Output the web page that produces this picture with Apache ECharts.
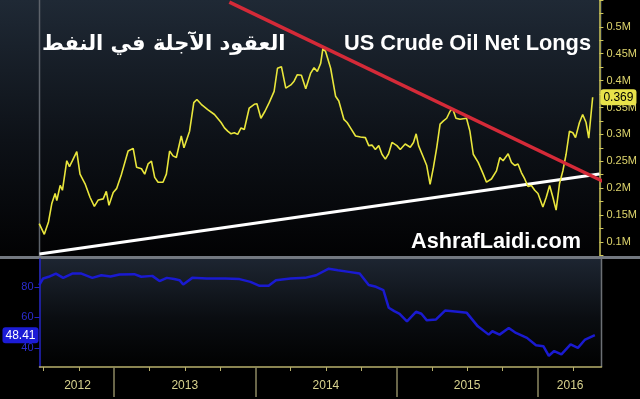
<!DOCTYPE html>
<html lang="en">
<head>
    <meta charset="UTF-8">
    <title>US Crude Oil Net Longs</title>
    <script src="https://cdn.jsdelivr.net/npm/echarts@6.0.0/dist/echarts.min.js"></script>
    <style>
        html, body {margin: 0; padding: 0; background: #000;}
    </style>
</head>
<body>
<div id="chart" style="width: 640px;height:399px;"></div>
<script>

    // net longs (millions of contracts), x in fractional years
    const longYears = [
        2012.469, 2012.505, 2012.535, 2012.559, 2012.582, 2012.594, 2012.618, 2012.634, 2012.665, 2012.684,
        2012.705, 2012.736, 2012.759, 2012.795, 2012.830, 2012.861, 2012.889, 2012.924, 2012.946, 2012.965,
        2012.995, 2013.019, 2013.054, 2013.101, 2013.137, 2013.161, 2013.196, 2013.219, 2013.243, 2013.267,
        2013.290, 2013.314, 2013.349, 2013.373, 2013.396, 2013.420, 2013.444, 2013.479, 2013.498, 2013.538,
        2013.568, 2013.590, 2013.621, 2013.667, 2013.715, 2013.762, 2013.786, 2013.809, 2013.833, 2013.856,
        2013.880, 2013.904, 2013.927, 2013.962, 2013.998, 2014.017, 2014.045, 2014.074, 2014.104, 2014.139,
        2014.163, 2014.191, 2014.222, 2014.258, 2014.281, 2014.304, 2014.333, 2014.364, 2014.399, 2014.423,
        2014.446, 2014.470, 2014.486, 2014.505, 2014.541, 2014.576, 2014.599, 2014.635, 2014.658, 2014.682,
        2014.718, 2014.753, 2014.788, 2014.812, 2014.835, 2014.859, 2014.883, 2014.906, 2014.930, 2014.953,
        2014.977, 2015.012, 2015.036, 2015.071, 2015.107, 2015.130, 2015.149, 2015.166, 2015.201, 2015.224,
        2015.248, 2015.272, 2015.295, 2015.319, 2015.343, 2015.366, 2015.390, 2015.408, 2015.432, 2015.461,
        2015.507, 2015.531, 2015.555, 2015.590, 2015.626, 2015.649, 2015.684, 2015.720, 2015.744, 2015.767,
        2015.803, 2015.826, 2015.850, 2015.873, 2015.897, 2015.921, 2015.944, 2015.968, 2015.992, 2016.015,
        2016.050, 2016.074, 2016.098, 2016.121, 2016.144, 2016.168, 2016.192, 2016.215, 2016.239, 2016.263,
        2016.282, 2016.310, 2016.333, 2016.357, 2016.376, 2016.404
    ];
    const longValues = [
        0.134, 0.114, 0.137, 0.172, 0.190, 0.177, 0.205, 0.196, 0.251, 0.240,
        0.251, 0.268, 0.226, 0.208, 0.183, 0.166, 0.178, 0.180, 0.194, 0.168,
        0.192, 0.199, 0.226, 0.269, 0.274, 0.239, 0.236, 0.226, 0.245, 0.250,
        0.220, 0.211, 0.211, 0.226, 0.269, 0.260, 0.257, 0.297, 0.275, 0.306,
        0.359, 0.365, 0.356, 0.346, 0.337, 0.322, 0.312, 0.306, 0.301, 0.303,
        0.300, 0.312, 0.309, 0.349, 0.356, 0.357, 0.330, 0.343, 0.359, 0.380,
        0.423, 0.426, 0.386, 0.392, 0.399, 0.411, 0.410, 0.385, 0.414, 0.424,
        0.417, 0.432, 0.460, 0.454, 0.423, 0.371, 0.362, 0.328, 0.322, 0.312,
        0.297, 0.295, 0.294, 0.279, 0.280, 0.272, 0.279, 0.263, 0.254, 0.264,
        0.285, 0.279, 0.272, 0.282, 0.276, 0.285, 0.301, 0.279, 0.257, 0.242,
        0.207, 0.239, 0.275, 0.319, 0.325, 0.330, 0.343, 0.348, 0.330, 0.328,
        0.330, 0.306, 0.263, 0.248, 0.226, 0.211, 0.217, 0.232, 0.257, 0.251,
        0.264, 0.248, 0.242, 0.245, 0.229, 0.217, 0.203, 0.205, 0.196, 0.190,
        0.165, 0.183, 0.205, 0.183, 0.159, 0.208, 0.232, 0.263, 0.306, 0.303,
        0.294, 0.322, 0.337, 0.322, 0.293, 0.369
    ];

    // lower panel (blue)
    const blueYears = [
        2012.469, 2012.497, 2012.536, 2012.587, 2012.639, 2012.703, 2012.768, 2012.845, 2012.909, 2012.974,
        2013.038, 2013.142, 2013.192, 2013.270, 2013.321, 2013.373, 2013.425, 2013.463, 2013.489, 2013.553,
        2013.657, 2013.786, 2013.888, 2013.965, 2014.030, 2014.094, 2014.146, 2014.249, 2014.352, 2014.430,
        2014.520, 2014.585, 2014.662, 2014.739, 2014.803, 2014.855, 2014.907, 2014.945, 2014.984, 2015.022,
        2015.074, 2015.138, 2015.176, 2015.215, 2015.280, 2015.344, 2015.434, 2015.498, 2015.576, 2015.653,
        2015.679, 2015.730, 2015.795, 2015.846, 2015.924, 2015.988, 2016.040, 2016.079, 2016.117, 2016.168,
        2016.233, 2016.285, 2016.336, 2016.405
    ];
    const blueValues = [
        81.0, 85.4, 86.5, 88.6, 85.8, 88.6, 88.6, 85.8, 87.5, 86.7,
        88.0, 88.2, 86.5, 87.1, 83.7, 85.8, 85.0, 84.3, 81.5, 85.8,
        85.4, 85.4, 85.0, 83.2, 80.6, 80.6, 84.3, 85.4, 85.8, 87.5,
        91.8, 90.8, 89.7, 88.6, 81.1, 80.0, 77.8, 66.3, 64.1, 62.4,
        57.4, 63.7, 62.4, 58.1, 58.7, 64.5, 63.7, 63.0, 54.2, 48.8,
        51.0, 48.8, 53.1, 49.9, 46.7, 41.9, 41.3, 35.0, 38.1, 35.9,
        42.4, 40.2, 45.6, 48.41
    ];

    // trend lines: [start, end]
    const supportYears = [2012.471, 2016.452];
    const supportValues = [0.0775, 0.2264];
    const resistYears = [2013.821, 2016.53];
    const resistValues = [0.546, 0.206];

    const quarterTicks = [2012.5, 2012.75, 2013.25, 2013.5, 2013.75, 2014.25, 2014.5, 2014.75,
        2015.25, 2015.5, 2015.75, 2016.25];
    const yearTicks = [2013, 2014, 2015, 2016];
    const yearLabelPos = [2012.74, 2013.5, 2014.5, 2015.5, 2016.23];

    const xMin = 2012.471, xMax = 2016.452;

    function pairs(xs, ys) {
        return xs.map((x, i) => [x, ys[i]]);
    }

    let chart = echarts.init(document.getElementById('chart'));
    const grad = (c0, c1, c2) => new echarts.graphic.LinearGradient(0, 0, 0, 1, [
        {offset: 0, color: c0}, {offset: 0.55, color: c1}, {offset: 1, color: c2}
    ]);

    chart.setOption({
        backgroundColor: '#000',
        animation: false,
        axisPointer: {triggerOn: 'none'},
        graphic: [
            {type: 'rect', z: -10, shape: {x: 0, y: 0, width: 602, height: 256},
                style: {fill: grad('#1f2935', '#0d1117', '#020203')}},
            {type: 'rect', z: -10, shape: {x: 39, y: 259, width: 563, height: 108},
                style: {fill: grad('#1d2531', '#0a0d11', '#010101')}},
            {type: 'rect', z: -9, shape: {x: 0, y: 256, width: 640, height: 3},
                style: {fill: '#737880'}},
            {type: 'line', z: -9, shape: {x1: 39.5, y1: 0, x2: 39.5, y2: 256},
                style: {stroke: '#5d636b', lineWidth: 1.5}},
            {type: 'line', z: -9, shape: {x1: 601.5, y1: 259, x2: 601.5, y2: 367},
                style: {stroke: '#6c7075', lineWidth: 1.5}}
        ],
        title: [{
            text: 'العقود الآجلة في النفط',
            left: 42, top: 34, padding: 0,
            textStyle: {color: '#fff', fontSize: 21, fontWeight: 'bold', fontFamily: 'DejaVu Sans'}
        }, {
            text: 'US Crude Oil Net Longs',
            left: 344, top: 33, padding: 0,
            textStyle: {color: '#fff', fontSize: 21.8, fontWeight: 'bold', fontFamily: 'Liberation Sans'}
        }, {
            text: 'AshrafLaidi.com',
            left: 411, top: 231, padding: 0,
            textStyle: {color: '#fff', fontSize: 21.7, fontWeight: 'bold', fontFamily: 'Liberation Sans'}
        }],
        grid: [
            {left: 39.5, right: 38.5, top: -2.1, height: 257.4},
            {left: 39.5, right: 38.5, top: 259, height: 108}
        ],
        xAxis: [{
            type: 'value', gridIndex: 0, min: xMin, max: xMax, show: false
        }, {
            type: 'value', gridIndex: 1, position: 'bottom', min: xMin, max: xMax,
            splitLine: {show: false},
            axisLine: {lineStyle: {color: '#b8b06c', width: 1.5}},
            axisTick: {customValues: quarterTicks, length: 4, lineStyle: {color: '#b8b06c'}},
            axisLabel: {
                customValues: yearLabelPos, margin: 13, color: '#d9d38e', fontSize: 12,
                fontFamily: 'Liberation Sans', formatter: v => String(Math.floor(v))
            }
        }, {
            type: 'value', gridIndex: 1, position: 'bottom', min: xMin, max: xMax,
            splitLine: {show: false},
            axisLine: {show: false},
            axisTick: {customValues: yearTicks, length: 30, lineStyle: {color: '#8c8862', width: 1.5}},
            axisLabel: {show: false}
        }],
        yAxis: [{
            type: 'value', gridIndex: 0, position: 'right',
            min: 0.075, max: 0.55, interval: 0.025,
            splitLine: {show: false},
            axisLine: {show: true, lineStyle: {color: '#cfc75a', width: 1.5}},
            axisTick: {show: true, length: 4, lineStyle: {color: '#cfc75a'}},
            axisLabel: {
                color: '#ddd46c', fontSize: 11, margin: 7, fontFamily: 'Liberation Sans',
                formatter: v => {
                    const k = Math.round(v * 1000);
                    return (k % 50 === 0 && k <= 500) ? (+v.toFixed(2)) + 'M' : '';
                }
            },
            axisPointer: {
                show: true, status: 'show', value: longValues[longValues.length - 1],
                triggerTooltip: false, lineStyle: {opacity: 0},
                label: {
                    show: true, margin: 1, padding: [2, 3], backgroundColor: '#e8e24a',
                    color: '#000', fontSize: 12, fontFamily: 'Liberation Sans',
                    formatter: p => p.value.toFixed(3)
                }
            }
        }, {
            type: 'value', gridIndex: 1, position: 'left',
            min: 27.7, max: 98.1,
            splitLine: {show: false},
            axisLine: {show: true, lineStyle: {color: '#2424c4', width: 1.5}},
            axisTick: {show: true, customValues: [40, 60, 80], length: 5, lineStyle: {color: '#2424c4'}},
            axisLabel: {customValues: [40, 60, 80], color: '#2c2cd0', fontSize: 11, margin: 6,
                fontFamily: 'Liberation Sans'},
            axisPointer: {
                show: true, status: 'show', value: blueValues[blueValues.length - 1],
                triggerTooltip: false, lineStyle: {opacity: 0},
                label: {
                    show: true, margin: 1, padding: [2, 3], backgroundColor: '#1c1cd6',
                    color: '#fff', fontSize: 12, fontFamily: 'Liberation Sans',
                    formatter: p => p.value.toFixed(2)
                }
            }
        }],
        series: [{
            name: 'support', type: 'line', xAxisIndex: 0, yAxisIndex: 0,
            data: pairs(supportYears, supportValues), symbol: 'none', silent: true,
            lineStyle: {color: '#ffffff', width: 3}, z: 3
        }, {
            name: 'net longs', type: 'line', xAxisIndex: 0, yAxisIndex: 0,
            data: pairs(longYears, longValues), symbol: 'none',
            lineStyle: {color: '#e9e63c', width: 1.6}, z: 4
        }, {
            name: 'resistance', type: 'line', xAxisIndex: 0, yAxisIndex: 0,
            data: pairs(resistYears, resistValues), symbol: 'none', silent: true, clip: false,
            lineStyle: {color: '#d42a38', width: 3.5}, z: 5
        }, {
            name: 'lower', type: 'line', xAxisIndex: 1, yAxisIndex: 1,
            data: pairs(blueYears, blueValues), symbol: 'none',
            lineStyle: {color: '#1a1ad0', width: 2.5}
        }]
    });
</script>
</body>
</html>
